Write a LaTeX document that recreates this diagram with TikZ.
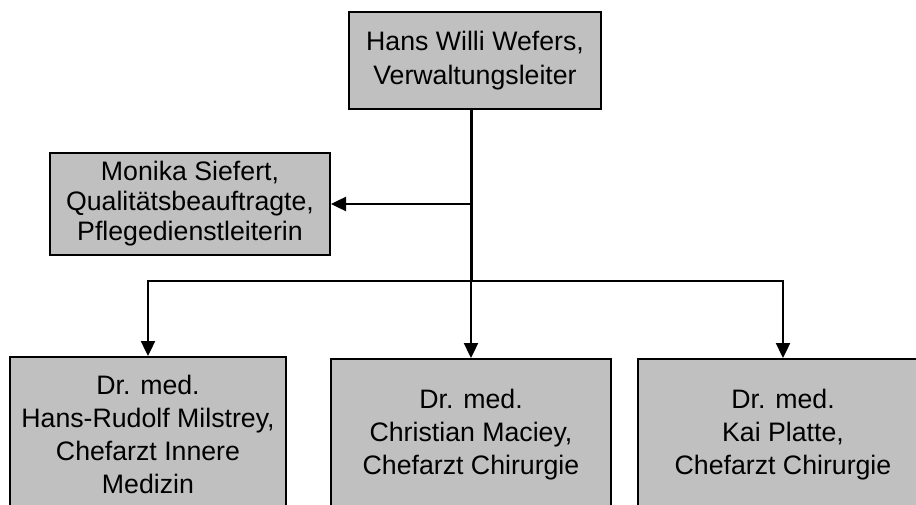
\documentclass[tikz,border=0pt]{standalone}
\usepackage{fontspec}
\setmainfont{Liberation Sans}
\usetikzlibrary{arrows.meta}
\definecolor{boxgray}{HTML}{C0C0C0}
\begin{document}
\begin{tikzpicture}[x=1pt,y=-1pt,
  orgbox/.style={draw=black, line width=2pt, fill=boxgray, align=center,
    inner sep=0pt, font=\fontsize{26.7}{33}\selectfont},
  conn/.style={line width=2.4pt, draw=black},
  arr/.style={conn, -{Triangle[length=15pt,width=14pt]}}]
\useasboundingbox (0,0) rectangle (916,505);
\clip (0,0) rectangle (916,505);
\fill[white] (0,0) rectangle (916,505);
\node[orgbox, minimum width=252pt, minimum height=97pt, font=\fontsize{26.7}{34}\selectfont] (top) at (475,60.5) {Hans Willi Wefers,\\Verwaltungsleiter};
\node[orgbox, minimum width=280pt, minimum height=102pt, font=\fontsize{26.7}{30}\selectfont] (left) at (190,204) {Monika Siefert,\\Qualitätsbeauftragte,\\Pflegedienstleiterin};
\node[orgbox, minimum width=276pt, minimum height=154pt, font=\fontsize{26.7}{33}\selectfont] (b1) at (148,434) {Dr. med.\\Hans-Rudolf Milstrey,\\Chefarzt Innere\\Medizin};
\node[orgbox, minimum width=280pt, minimum height=152pt] (b2) at (471,435) {Dr. med.\\Christian Maciey,\\Chefarzt Chirurgie};
\node[orgbox, minimum width=290pt, minimum height=152pt] (b3) at (783,435) {Dr. med.\\Kai Platte,\\Chefarzt Chirurgie};
\coordinate (j1) at (471,204);
\coordinate (j2) at (471,281);
\draw[conn, line width=3pt] (top.south -| j1) -- (j2);
\draw[arr] (j1) -- (left.east);
\draw[arr] (j2) -- (b2.north);
\draw[arr] (j2) -| (b1.north);
\draw[arr] (j2) -| (b3.north);
\end{tikzpicture}
\end{document}
